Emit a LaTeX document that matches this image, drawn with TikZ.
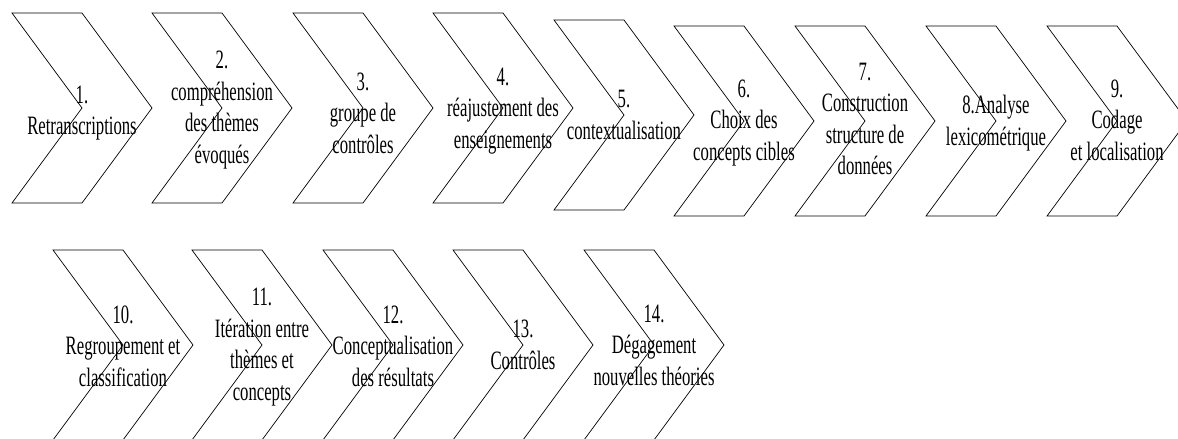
\documentclass[tikz,border=0pt]{standalone}
\usepackage{fontspec}
\newfontfamily\narrowserif[FakeStretch=0.63]{Liberation Serif}
\usepackage{tikz}
\usetikzlibrary{positioning}
\tikzset{
	edge/.style={draw, line width=0.7pt, line join=miter},
	stage/.style={align=center, inner sep=0pt,
		font=\narrowserif\fontsize{26.5}{31.5}\selectfont},
	chev/.pic={\path[edge] (-70,-95) -- (0,-95) -- (70,0) -- (0,95) -- (-70,95) -- (0,0) -- cycle;},
}
\begin{document}
\begin{tikzpicture}[x=1pt, y=-1pt]
				\useasboundingbox (0,0) rectangle (1178,439);
				\clip (0,0) rectangle (1178,439);
				\pic at (82,108) {chev};
				\pic at (222,108) {chev};
				\pic at (363,108) {chev};
				\pic at (503,108) {chev};
				\pic at (624,115) {chev};
				\pic at (744,121) {chev};
				\pic at (865,121) {chev};
				\pic at (996,121) {chev};
				\pic at (1117,121) {chev};
				\pic at (123,345) {chev};
				\pic at (262,345) {chev};
				\pic at (393,345) {chev};
				\pic at (523,345) {chev};
				\pic at (654,345) {chev};
				\node[stage] at (82,113) (s1) {1.\\Retranscriptions};
				\node[stage] at (222,110) (s2) {2.\\compréhension\\des thèmes\\évoqués};
				\node[stage] at (363,113) (s3) {3.\\groupe de\\contrôles};
				\node[stage] at (503,111) (s4) {4.\\réajustement des\\enseignements};
				\node[stage] at (624,115) (s5) {5.\\contextualisation};
				\node[stage] at (744,123) (s6) {6.\\Choix des\\concepts cibles};
				\node[stage] at (865,119) (s7) {7.\\Construction\\structure de\\données};
				\node[stage] at (996,123) (s8) {8.Analyse\\lexicométrique};
				\node[stage] at (1117,120) (s9) {9.\\Codage\\et localisation};
				\node[stage] at (123,346) (s10) {10.\\Regroupement et\\classification};
				\node[stage] at (262,347) (s11) {11.\\Itération entre\\thèmes et\\concepts};
				\node[stage] at (393,346) (s12) {12.\\Conceptualisation\\des résultats};
				\node[stage] at (523,345) (s13) {13.\\Contrôles};
				\node[stage] at (654,345) (s14) {14.\\Dégagement\\nouvelles théories};
			\end{tikzpicture}
\end{document}
